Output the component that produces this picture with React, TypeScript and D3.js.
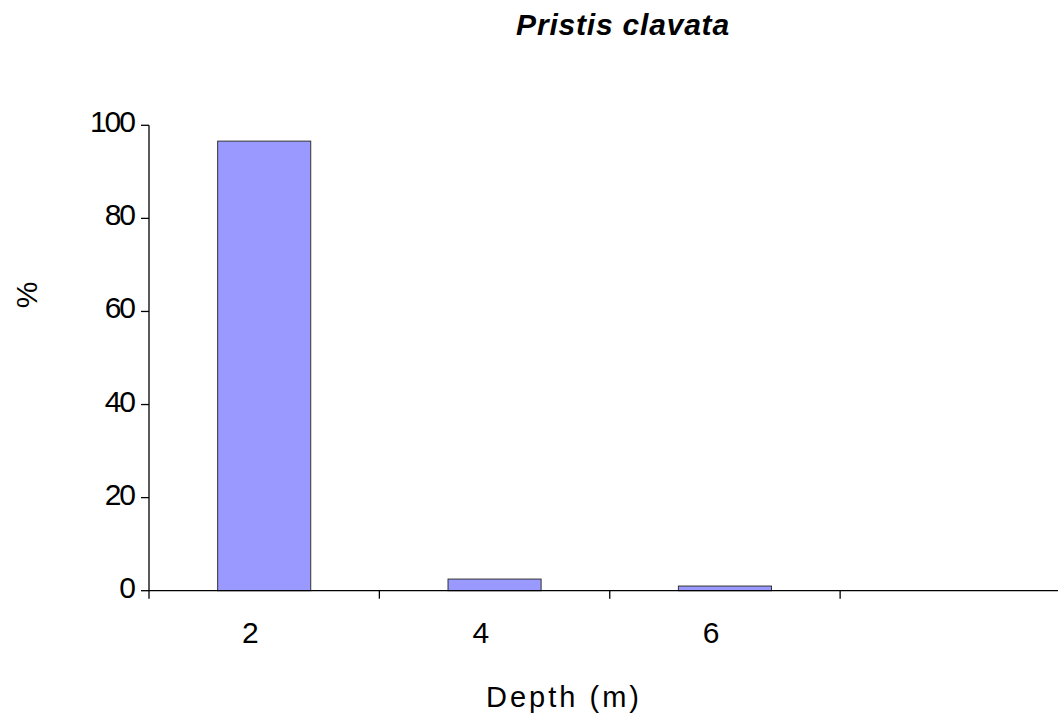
import React, { useEffect, useRef } from "react";
import * as d3 from "d3";

const depths = ["2", "4", "6", ""];
const percents = [96.6, 2.5, 1.0, 0];
const yTicks = [0, 20, 40, 60, 80, 100];

const width = 1058;
const height = 715;
const space = { left: 149, right: 1070.5, top: 125.3, bottom: 590.7 };
const font = "'Liberation Sans', Arial, sans-serif";

const App = () => {
  const ref = useRef<SVGSVGElement>(null);

  useEffect(() => {
    const svg = d3.select(ref.current);
    svg.selectAll("*").remove();

    const x = d3.scaleBand().domain(depths).range([space.left, space.right]).paddingInner(0).paddingOuter(0);
    const y = d3.scaleLinear().domain([0, 100]).range([space.bottom, space.top]);
    const barW = x.bandwidth() * 0.404;

    svg
      .append("text")
      .attr("x", 623)
      .attr("y", 35)
      .attr("text-anchor", "middle")
      .attr("font-family", font)
      .attr("font-size", 30)
      .attr("font-weight", "bold")
      .attr("font-style", "italic")
      .attr("letter-spacing", 0.8)
      .text("Pristis clavata");

    // bars
    svg
      .append("g")
      .selectAll("rect")
      .data(depths.map((d, i) => ({ d, v: percents[i] })).filter((r) => r.v > 0))
      .join("rect")
      .attr("x", (r) => x(r.d)! + x.bandwidth() / 2 - barW / 2)
      .attr("y", (r) => y(r.v))
      .attr("width", barW)
      .attr("height", (r) => y(0) - y(r.v))
      .attr("fill", "#9999ff")
      .attr("stroke", "#333")
      .attr("stroke-width", 1);

    // y axis
    const ga = svg.append("g").attr("stroke", "#000").attr("stroke-width", 1.3);
    ga.append("line").attr("x1", space.left).attr("x2", space.left).attr("y1", y(100)).attr("y2", y(0));
    ga.selectAll(".yt")
      .data(yTicks)
      .join("line")
      .attr("x1", space.left - 8)
      .attr("x2", space.left)
      .attr("y1", (d) => y(d))
      .attr("y2", (d) => y(d));

    svg
      .append("g")
      .selectAll("text")
      .data(yTicks)
      .join("text")
      .attr("x", 134)
      .attr("y", (d) => y(d) + 7)
      .attr("text-anchor", "end")
      .attr("font-family", font)
      .attr("font-size", 30)
      .attr("letter-spacing", -2)
      .text((d) => d);

    // x axis
    ga.append("line").attr("x1", space.left).attr("x2", width).attr("y1", y(0)).attr("y2", y(0));
    ga.selectAll(".xt")
      .data(depths)
      .join("line")
      .attr("x1", (d) => x(d)!)
      .attr("x2", (d) => x(d)!)
      .attr("y1", y(0))
      .attr("y2", y(0) + 8);

    svg
      .append("g")
      .selectAll("text")
      .data(depths)
      .join("text")
      .attr("x", (d) => x(d)! + x.bandwidth() * 0.44)
      .attr("y", 643)
      .attr("text-anchor", "middle")
      .attr("font-family", font)
      .attr("font-size", 30)
      .text((d) => d);

    svg
      .append("text")
      .attr("x", 564)
      .attr("y", 707)
      .attr("text-anchor", "middle")
      .attr("font-family", font)
      .attr("font-size", 29)
      .attr("letter-spacing", 3)
      .text("Depth (m)");

    svg
      .append("text")
      .attr("transform", "translate(37,295) rotate(-90)")
      .attr("text-anchor", "middle")
      .attr("font-family", font)
      .attr("font-size", 30)
      .text("%");
  }, []);

  return (
    <svg
      ref={ref}
      width={width}
      height={height}
      style={{ position: "absolute", left: 0, top: 0, background: "#fff" }}
    />
  );
};

export default App;
